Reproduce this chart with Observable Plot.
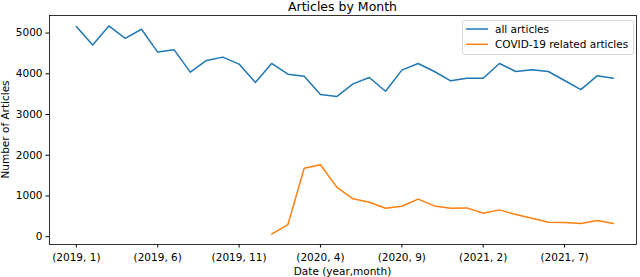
<!DOCTYPE html>
<html><head><meta charset="utf-8">
<script src="https://cdn.jsdelivr.net/npm/d3@7"></script>
<script src="https://cdn.jsdelivr.net/npm/@observablehq/plot@0.6"></script>
<style>html,body{margin:0;padding:0;background:#fff}svg{display:block}</style>
</head><body><div id="chart"></div>
<script>
const months = ["(2019, 1)","(2019, 2)","(2019, 3)","(2019, 4)","(2019, 5)","(2019, 6)","(2019, 7)","(2019, 8)","(2019, 9)","(2019, 10)","(2019, 11)","(2019, 12)",
  "(2020, 1)","(2020, 2)","(2020, 3)","(2020, 4)","(2020, 5)","(2020, 6)","(2020, 7)","(2020, 8)","(2020, 9)","(2020, 10)","(2020, 11)","(2020, 12)",
  "(2021, 1)","(2021, 2)","(2021, 3)","(2021, 4)","(2021, 5)","(2021, 6)","(2021, 7)","(2021, 8)","(2021, 9)","(2021, 10)"];
const allArticles = [5160,4706,5176,4872,5094,4534,4593,4040,4329,4410,4238,3785,
  4254,3991,3942,3489,3440,3753,3909,3571,4090,4254,4057,3827,
  3892,3892,4254,4057,4099,4057,3835,3612,3950,3892];
const covidArticles = [null,null,null,null,null,null,null,null,null,null,null,null,
  64,296,1679,1768,1217,929,847,699,748,921,756,699,
  707,575,658,543,452,353,346,321,395,321];
const seriesNames = ["all articles","COVID-19 related articles"];
const seriesColors = ["#1f77b4","#ff7f0e"];
const xTickIdx = [0,5,10,15,20,25,30];
const yTicks = [0,1000,2000,3000,4000,5000];
const titleText = "Articles by Month";
const xLabel = "Date (year,month)";
const yLabel = "Number of Articles";

const allRows = months.map((m,i)=>({i, label:m, value:allArticles[i]}));
const covidRows = months.map((m,i)=>({i, label:m, value:covidArticles[i]})).filter(d=>d.value!=null);

const font = "DejaVu Sans, sans-serif";
const fs = 10.5;
const W = 640, H = 277, mL = 49, mR = 4, mT = 15, mB = 33;

const chart = Plot.plot({
  width: W, height: H, marginLeft: mL, marginRight: mR, marginTop: mT, marginBottom: mB,
  style: {fontFamily: font, fontSize: fs + "px", background: "#fff", color: "#000", overflow: "visible"},
  x: {type: "linear", domain: [-1.65, 34.42], label: null},
  y: {domain: [-192, 5432], label: null},
  marks: [
    Plot.axisX({ticks: xTickIdx, tickFormat: i => months[i], tickSize: 3.5, tickPadding: 6, fontSize: fs, label: null, stroke: "#000"}),
    Plot.axisY({ticks: yTicks, tickFormat: d3.format("d"), tickSize: 3.5, tickPadding: 3.5, fontSize: fs, label: null, stroke: "#000"}),
    Plot.lineY(allRows, {x: "i", y: "value", stroke: seriesColors[0], strokeWidth: 1.5}),
    Plot.lineY(covidRows, {x: "i", y: "value", stroke: seriesColors[1], strokeWidth: 1.5}),
    Plot.frame({stroke: "#000", strokeWidth: 0.8})
  ]
});
document.getElementById("chart").appendChild(chart);

const svg = d3.select(chart);
const cx = (mL + (W - mR)) / 2;
const cy = (mT + (H - mB)) / 2;
svg.append("text").attr("x", cx).attr("y", 11).attr("text-anchor", "middle")
  .attr("font-family", font).attr("font-size", 12.5).attr("fill", "#000").text(titleText);
svg.append("text").attr("x", cx).attr("y", 275).attr("text-anchor", "middle")
  .attr("font-family", font).attr("font-size", fs).attr("fill", "#000").text(xLabel);
svg.append("text").attr("transform", `translate(9,${cy}) rotate(-90)`).attr("text-anchor", "middle")
  .attr("font-family", font).attr("font-size", fs).attr("fill", "#000").text(yLabel);

// legend
const lg = svg.append("g").attr("text-anchor", "start");
lg.append("rect").attr("x", 462.5).attr("y", 20.5).attr("width", 171).attr("height", 34).attr("rx", 2)
  .attr("fill", "#fff").attr("fill-opacity", 0.8).attr("stroke", "#d0d0d0").attr("stroke-width", 0.8);
seriesNames.forEach((name, k) => {
  const y = 29 + k * 15.3;
  lg.append("line").attr("x1", 466).attr("x2", 488).attr("y1", y).attr("y2", y)
    .attr("stroke", seriesColors[k]).attr("stroke-width", 1.5);
  lg.append("text").attr("x", 495).attr("y", y + 3.8).attr("text-anchor", "start").attr("font-family", font).attr("font-size", fs)
    .attr("fill", "#000").text(name);
});
</script></body></html>
